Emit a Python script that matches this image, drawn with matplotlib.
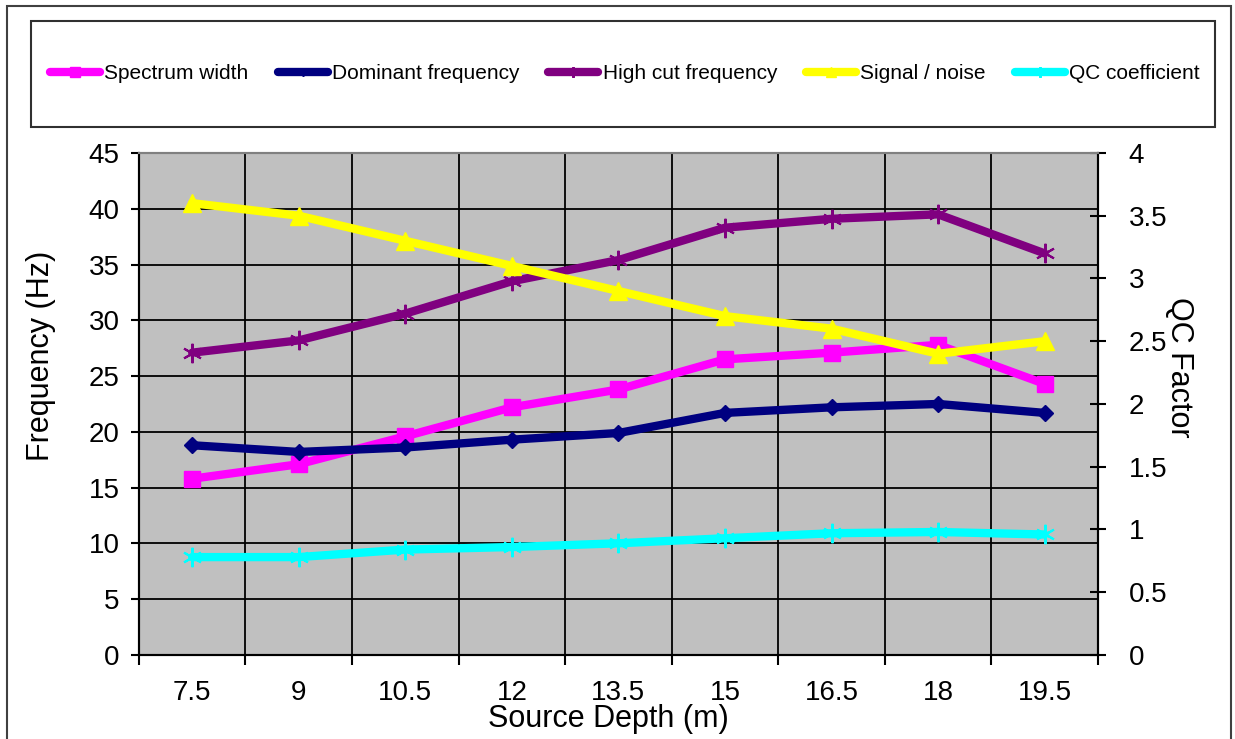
import numpy as np
import matplotlib.pyplot as plt
from matplotlib.patches import Rectangle
from matplotlib.ticker import FixedLocator, NullFormatter

plt.rcParams['font.family'] = ['Liberation Sans', 'DejaVu Sans']

# source depth (m) and measured attributes
depth = [7.5, 9, 10.5, 12, 13.5, 15, 16.5, 18, 19.5]
spectrum_width = [15.8, 17.1, 19.6, 22.2, 23.8, 26.5, 27.1, 27.8, 24.3]
dominant_freq = [18.8, 18.2, 18.6, 19.3, 19.9, 21.7, 22.2, 22.5, 21.7]
high_cut_freq = [27.1, 28.2, 30.6, 33.5, 35.4, 38.3, 39.1, 39.5, 36.0]
signal_noise = [3.6, 3.5, 3.3, 3.1, 2.9, 2.7, 2.6, 2.4, 2.5]
qc_coeff = [0.78, 0.78, 0.84, 0.86, 0.89, 0.93, 0.97, 0.98, 0.96]

x = np.arange(len(depth))

fig = plt.figure(figsize=(12.35, 7.39), dpi=100)
ax = fig.add_axes([0.1125, 0.1137, 0.7765, 0.6793])
ax2 = ax.twinx()

ax.set_facecolor('#c0c0c0')
ax.set_zorder(1)
ax2.set_zorder(2)
ax2.patch.set_visible(False)

line_kw = dict(lw=6, solid_joinstyle='round', solid_capstyle='round')
h1, = ax.plot(x, spectrum_width, color='#ff00ff', marker='s', ms=12,
              label='Spectrum width', **line_kw)
h2, = ax.plot(x, dominant_freq, color='#000080', marker='D', ms=8,
              label='Dominant frequency', **line_kw)
h3, = ax.plot(x, high_cut_freq, color='#800080', marker=(6, 2, 0), ms=14,
              mew=1.5, label='High cut frequency', **line_kw)
h4, = ax2.plot(x, signal_noise, color='#ffff00', marker='^', ms=13,
               label='Signal / noise', **line_kw)
h5, = ax2.plot(x, qc_coeff, color='#00ffff', marker=(6, 2, 0), ms=14,
               mew=1.5, label='QC coefficient', **line_kw)

# category axis: labels at centres, ticks and grid at boundaries
ax.set_xlim(-0.5, len(depth) - 0.5)
ax.set_xticks(x)
ax.set_xticklabels([f'{d:g}' for d in depth])
ax.tick_params(axis='x', which='major', length=0, pad=18, labelsize=20)
ax.xaxis.set_minor_locator(FixedLocator(np.arange(-0.5, len(depth), 1.0)))
ax.xaxis.set_minor_formatter(NullFormatter())
ax.tick_params(axis='x', which='minor', length=7, width=1.5, direction='out')
ax.grid(True, axis='x', which='minor', color='black', lw=1.3)

ax.set_ylim(0, 45)
ax.set_yticks(np.arange(0, 46, 5))
ax.tick_params(axis='y', length=6, width=1.5, direction='out', labelsize=20, pad=8)
ax.grid(True, axis='y', which='major', color='black', lw=1.3)
ax.set_axisbelow(True)

ax2.set_ylim(0, 4)
ax2.set_yticks(np.arange(0, 4.01, 0.5))
ax2.set_yticklabels([f'{v:g}' for v in np.arange(0, 4.01, 0.5)])
ax2.tick_params(axis='y', length=12, width=1.5, direction='inout', labelsize=20, pad=16)

for a in (ax, ax2):
    for side in ('left', 'right', 'bottom'):
        a.spines[side].set_color('black')
        a.spines[side].set_linewidth(1.5)
    a.spines['top'].set_color('#808080')
    a.spines['top'].set_linewidth(1.5)

ax.set_xlabel('Source Depth (m)', fontsize=22)
ax.xaxis.set_label_coords(0.49, -0.097)
ax.set_ylabel('Frequency (Hz)', fontsize=22)
ax.yaxis.set_label_coords(-0.087, 0.596)
ax2.set_ylabel('QC Factor', fontsize=22, rotation=270, va='center')
ax2.yaxis.set_label_coords(1.085, 0.574)

# outer chart frame and legend box
fig.patches.append(Rectangle((0.0057, -0.05), 0.991, 1.0419, transform=fig.transFigure,
                             fill=False, ec='#404040', lw=1.5))
fig.patches.append(Rectangle((0.0251, 0.828), 0.9587, 0.1436, transform=fig.transFigure,
                             fill=False, ec='#303030', lw=1.5))

leg = fig.legend(handles=[h1, h2, h3, h4, h5], loc='center',
                 bbox_to_anchor=(0.506, 0.90), ncol=5, frameon=False,
                 fontsize=15, handlelength=2.4, handletextpad=0.2,
                 columnspacing=1.4, markerscale=0.55)

fig.savefig('out.png', dpi=100)
